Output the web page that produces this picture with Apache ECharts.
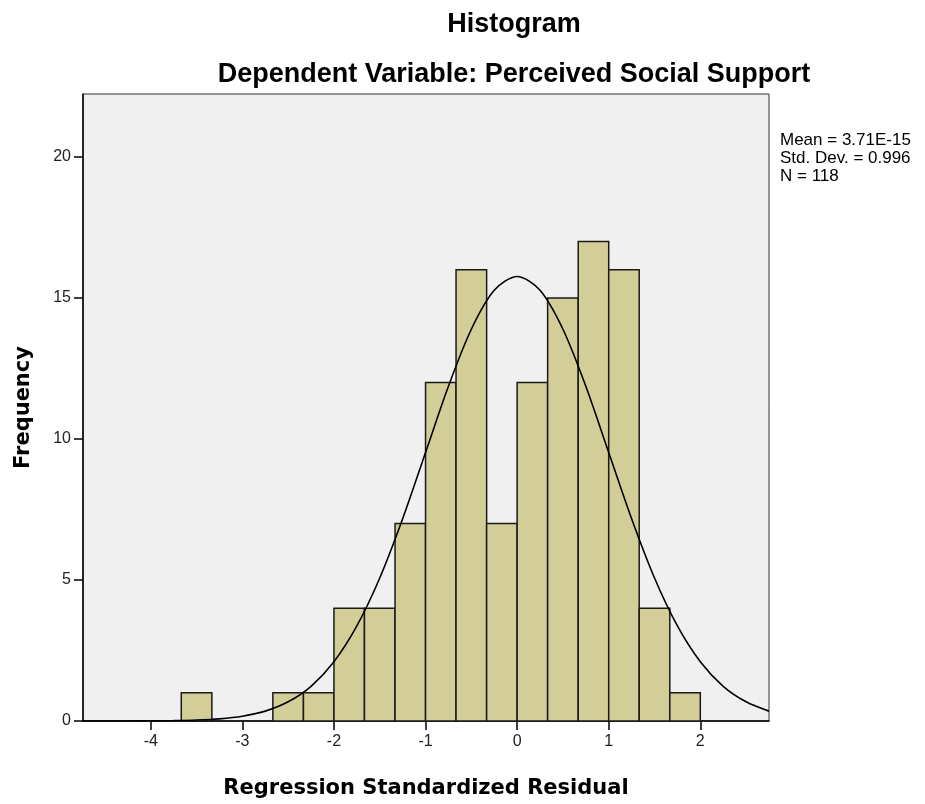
<!DOCTYPE html>
<html><head><meta charset="utf-8">
<script src="https://cdn.jsdelivr.net/npm/echarts@6/dist/echarts.min.js"></script>
<style>html,body{margin:0;padding:0;background:#fff}#c{width:925px;height:804px}</style>
</head><body><div id="c"></div>
<script>
// Histogram bins (lower/upper edge) and frequencies
const binLower = [-3.667, -2.667, -2.333, -2.0, -1.667, -1.333, -1.0, -0.667, -0.333, 0.0, 0.333, 0.667, 1.0, 1.333, 1.667];
const binUpper = [-3.333, -2.333, -2.0, -1.667, -1.333, -1.0, -0.667, -0.333, 0.0, 0.333, 0.667, 1.0, 1.333, 1.667, 2.0];
const counts   = [1, 1, 1, 4, 4, 7, 12, 16, 7, 12, 15, 17, 16, 4, 1];
// Normal curve
const curveX = [-4.75,-4.5,-4.25,-4,-3.75,-3.5,-3.25,-3,-2.75,-2.5,-2.25,-2,-1.75,-1.5,-1.25,-1,-0.75,-0.5,-0.25,0,0.25,0.5,0.75,1,1.25,1.5,1.75,2,2.25,2.5,2.75];
const curveY = [0.0,0.001,0.002,0.005,0.013,0.033,0.077,0.17,0.35,0.68,1.23,2.1,3.37,5.07,7.17,9.52,11.87,13.89,15.27,15.76,15.27,13.89,11.87,9.52,7.17,5.07,3.37,2.1,1.23,0.68,0.35];
const xTicks = [-4, -3, -2, -1, 0, 1, 2];
const yTicks = [0, 5, 10, 15, 20];
const statsLines = ['Mean = 3.71E-15', 'Std. Dev. = 0.996', 'N = 118'];

const chart = echarts.init(document.getElementById('c'));
const font = 'Liberation Sans, Arial, sans-serif';
const font2 = 'DejaVu Sans, Verdana, sans-serif';
const barData = binLower.map((lo, i) => [lo, binUpper[i], counts[i]]);
chart.setOption({
  animation: false,
  backgroundColor: '#fff',
  title: [
    {text: 'Histogram', left: 509, top: 6, textAlign: 'center',
     textStyle: {fontFamily: font, fontWeight: 'bold', fontSize: 27, color: '#000'}},
    {text: 'Dependent Variable: Perceived Social Support', left: 509, top: 56, textAlign: 'center',
     textStyle: {fontFamily: font, fontWeight: 'bold', fontSize: 27, color: '#000'}}
  ],
  graphic: [{
    type: 'text', left: 780, top: 131,
    style: {text: statsLines.join('\n'), fontFamily: font, fontSize: 17, lineHeight: 18, fill: '#000'}
  }],
  grid: {left: 83, right: 156, top: 94, bottom: 82, show: true, backgroundColor: '#f0f0f0',
         borderColor: '#333', borderWidth: 1},
  xAxis: {
    type: 'value', min: -4.74, max: 2.75,
    name: 'Regression Standardized Residual', nameLocation: 'middle', nameGap: 57,
    nameTextStyle: {fontFamily: font2, fontWeight: 'bold', fontSize: 21, color: '#000'},
    axisLine: {show: true, onZero: false, lineStyle: {color: '#000', width: 1.5}},
    axisTick: {show: true, length: 9, customValues: xTicks, lineStyle: {color: '#000', width: 1.5}},
    axisLabel: {customValues: xTicks, fontFamily: font, fontSize: 16, color: '#222', margin: 13},
    splitLine: {show: false}
  },
  yAxis: {
    type: 'value', min: 0, max: 22.23,
    name: 'Frequency', nameLocation: 'middle', nameGap: 49, nameRotate: 90,
    nameTextStyle: {fontFamily: font2, fontWeight: 'bold', fontSize: 21, color: '#000'},
    axisLine: {show: true, onZero: false, lineStyle: {color: '#000', width: 1.5}},
    axisTick: {show: true, length: 9, customValues: yTicks, lineStyle: {color: '#000', width: 1.5}},
    axisLabel: {customValues: yTicks, fontFamily: font, fontSize: 16, color: '#222', margin: 12},
    splitLine: {show: false}
  },
  series: [
    {
      type: 'custom',
      data: barData,
      encode: {x: [0, 1], y: 2},
      renderItem: function (params, api) {
        const p0 = api.coord([api.value(0), api.value(2)]);
        const p1 = api.coord([api.value(1), 0]);
        return {
          type: 'rect',
          shape: {x: p0[0], y: p0[1], width: p1[0] - p0[0], height: p1[1] - p0[1]},
          style: {fill: '#d3ce97', stroke: '#1a1a1a', lineWidth: 1.5}
        };
      },
      z: 2
    },
    {
      type: 'line', smooth: 0.3, showSymbol: false, symbol: 'none',
      data: curveX.map((x, i) => [x, curveY[i]]),
      lineStyle: {color: '#000', width: 1.6},
      clip: true, z: 3
    }
  ]
});
</script></body></html>
